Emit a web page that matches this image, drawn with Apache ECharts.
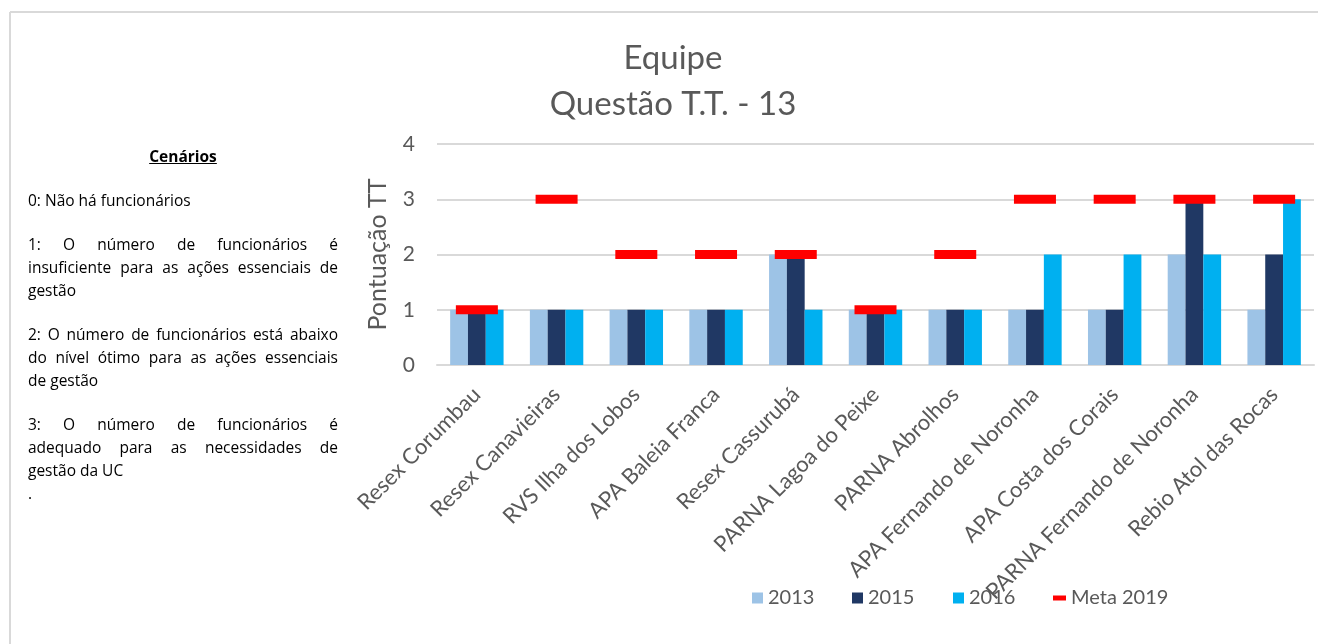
<!DOCTYPE html>
<html>
<head>
<meta charset="utf-8">
<script src="https://cdn.jsdelivr.net/npm/echarts@6/dist/echarts.min.js"></script>
<style>
  body { margin: 0; background: #fff; }
  #wrap { position: relative; width: 1318px; height: 644px; }
  #chart { position: absolute; left: 0; top: 0; width: 1318px; height: 644px; }
  #cenarios {
    position: absolute; left: 28px; top: 145px; width: 310px;
    font-family: "Open Sans", "Liberation Sans", sans-serif; font-size: 15.5px;
    line-height: 23px; color: #000;
  }
  #cenarios p { margin: 0 0 21px 0; }
  #cenarios .j { text-align: justify; text-align-last: justify; white-space: nowrap; }
  #cenarios .tit { text-align: center; font-weight: bold; text-decoration: underline; }
</style>
</head>
<body>
<div id="wrap">
  <div id="chart"></div>
  <!-- texto dos cenários, uma linha por span como no original -->
  <div id="cenarios">
    <p class="tit">Cenários</p>
    <p>0: Não há funcionários</p>
    <p>
      <span style="display:block" class="j">1: O número de funcionários é</span>
      <span style="display:block" class="j">insuficiente para as ações essenciais de</span>
      <span style="display:block">gestão</span>
    </p>
    <p>
      <span style="display:block" class="j">2: O número de funcionários está abaixo</span>
      <span style="display:block" class="j">do nível ótimo para as ações essenciais</span>
      <span style="display:block">de gestão</span>
    </p>
    <p style="margin:0">
      <span style="display:block" class="j">3: O número de funcionários é</span>
      <span style="display:block" class="j">adequado para as necessidades de</span>
      <span style="display:block">gestão da UC</span>
    </p>
    <p style="margin:0">.</p>
  </div>
</div>
<script>
var categorias = ["Resex Corumbau", "Resex Canavieiras", "RVS Ilha dos Lobos", "APA Baleia Franca",
  "Resex Cassurubá", "PARNA Lagoa do Peixe", "PARNA Abrolhos", "APA Fernando de Noronha",
  "APA Costa dos Corais", "PARNA Fernando de Noronha", "Rebio Atol das Rocas"];
var v2013 = [1, 1, 1, 1, 2, 1, 1, 1, 1, 2, 1];
var v2015 = [1, 1, 1, 1, 2, 1, 1, 1, 1, 3, 2];
var v2016 = [1, 1, 1, 1, 1, 1, 1, 2, 2, 2, 3];
var meta2019 = [1, 3, 2, 2, 2, 1, 2, 3, 3, 3, 3];
var yTicks = [0, 1, 2, 3, 4];

var fonte = "Lato, 'Liberation Sans', sans-serif";
var cinza = "#595959";

var myChart = echarts.init(document.getElementById("chart"));

// uma legenda por item, para ficar no mesmo espaçamento do original
function legenda(nome, x, w, h) {
  return {
    data: [nome], left: x, top: 588, padding: 0,
    itemWidth: w, itemHeight: h, icon: "rect",
    textStyle: { fontFamily: fonte, fontSize: 20, color: cinza }
  };
}

var option = {
  backgroundColor: "#fff",
  textStyle: { fontFamily: fonte },
  title: {
    text: "Equipe\nQuestão T.T. - 13",
    left: 668, top: 30, textAlign: "center",
    textStyle: { fontFamily: fonte, fontSize: 33, fontWeight: "normal", color: cinza, lineHeight: 46 }
  },
  graphic: [
    { type: "line", shape: { x1: 10, y1: 12, x2: 1318, y2: 12 }, style: { stroke: "#d9d9d9", lineWidth: 2 } },
    { type: "line", shape: { x1: 10, y1: 12, x2: 10, y2: 644 }, style: { stroke: "#d9d9d9", lineWidth: 2 } }
  ],
  legend: [
    legenda("2013", 752, 11, 11),
    legenda("2015", 852, 11, 11),
    legenda("2016", 953, 11, 11),
    legenda("Meta 2019", 1053, 13, 5)
  ],
  grid: { left: 437, right: 4, top: 144, bottom: 279 },
  xAxis: {
    type: "category",
    data: categorias,
    axisLine: { lineStyle: { color: "#d9d9d9", width: 2 } },
    axisTick: { show: false },
    axisLabel: { rotate: 45, interval: 0, margin: 26, fontSize: 22, color: cinza, fontFamily: fonte }
  },
  yAxis: {
    type: "value",
    min: yTicks[0], max: yTicks[yTicks.length - 1], interval: 1,
    name: "Pontuação TT",
    nameLocation: "middle", nameGap: 47,
    nameTextStyle: { fontSize: 25, color: cinza, fontFamily: fonte },
    axisLine: { show: false },
    axisTick: { show: false },
    axisLabel: { fontSize: 21, color: cinza, margin: 22, fontFamily: fonte },
    splitLine: { lineStyle: { color: "#d9d9d9", width: 2 } }
  },
  series: [
    { name: "2013", type: "bar", data: v2013, barGap: 0, barCategoryGap: "33%", itemStyle: { color: "#9dc3e6" } },
    { name: "2015", type: "bar", data: v2015, itemStyle: { color: "#203864" } },
    { name: "2016", type: "bar", data: v2016, itemStyle: { color: "#00b0f0" } },
    {
      name: "Meta 2019", type: "scatter", data: meta2019, z: 5,
      symbol: "rect", symbolSize: [42, 9],
      itemStyle: { color: "#ff0000", opacity: 1 }
    }
  ]
};

myChart.setOption(option);
</script>
</body>
</html>
